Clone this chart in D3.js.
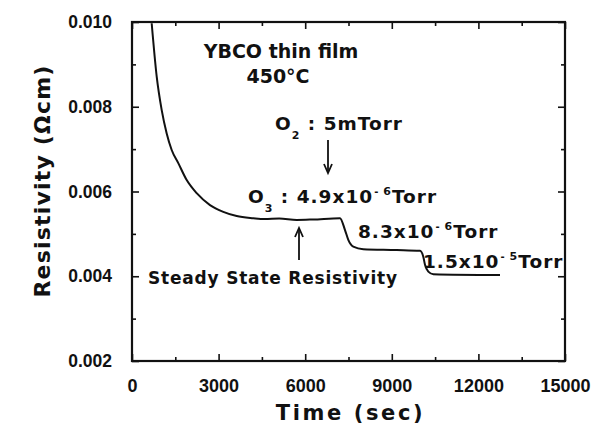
<!DOCTYPE html>
<html>
<head>
<meta charset="utf-8">
<script src="https://cdn.jsdelivr.net/npm/d3@7"></script>
<style>
  html, body { margin: 0; padding: 0; background: #fff; }
  svg { display: block; font-family: "DejaVu Sans", sans-serif; font-weight: bold; }
</style>
</head>
<body>
<svg id="chartArea" width="604" height="436"></svg>
<script>

/* data */
// time (sec)
const timeSec = [
  682, 856, 1029, 1202, 1375, 1604, 1895, 2241, 2702, 3163, 3627, 4202,
  4600, 5100, 5705, 6270, 7205,
  7379, 7493, 7666, 8013, 9170, 9977,
  10091, 10150, 10265, 10438, 12748
];
// resistivity (ohm cm)
const resistivity = [
  0.00997, 0.00871, 0.00792, 0.00737, 0.00698, 0.00667, 0.00627, 0.00596, 0.00568, 0.00552, 0.00542, 0.00537,
  0.00535, 0.00536, 0.00533, 0.00534, 0.00537,
  0.00509, 0.00486, 0.00470, 0.00464, 0.00462, 0.00460,
  0.00446, 0.00427, 0.00411, 0.00405, 0.00403
];

// axis tick values
const xTicks = d3.range(0, 15001, 1500);
const xTickLabels = ["0", "", "3000", "", "6000", "", "9000", "", "12000", "", "15000"];
const yTicks = d3.range(0.002, 0.01001, 0.001);
const yTickLabels = ["0.002", "", "0.004", "", "0.006", "", "0.008", "", "0.010"];

// labels
const xTitle = "Time  (sec)";
const yTitle = "Resistivity  (\u03A9cm)";
const sampleLabel = ["YBCO thin film", "450\u00B0C"];
const gasLabels = {
  o2: ["O", "2", " : 5mTorr"],
  o3: ["O", "3", " : 4.9x10", "-", "6", "Torr"],
  step1: ["8.3x10", "-", "6", "Torr"],
  step2: ["1.5x10", "-", "5", "Torr"]
};
const steadyLabel = "Steady State Resistivity";

/* main */
const svg = d3.select("#chartArea");
const margin = {top: 22, right: 39, bottom: 75, left: 132};
const width = 604, height = 436;
const ink = "#111";

// scales
const x = d3.scaleLinear()
  .domain([0, 15000])
  .range([margin.left, width - margin.right]);
const y = d3.scaleLinear()
  .domain([0.002, 0.010])
  .range([height - margin.bottom, margin.top]);

/* inward ticks, short for minor values */
function styleTicks(g, horizontal, sign) {
  g.selectAll(".tick line")
    .attr("stroke", ink)
    .attr("stroke-width", 1.6)
    .each(function(d, i) {
      const len = (i % 2 === 0 ? 7 : 4) * sign;
      d3.select(this).attr(horizontal ? "y2" : "x2", len);
    });
  g.select(".domain").attr("stroke", "none");
}

// bottom axis
const xAxis = svg.append("g")
  .attr("transform", `translate(0,${y.range()[0]})`)
  .call(d3.axisBottom(x)
    .tickValues(xTicks)
    .tickSizeOuter(0)
    .tickPadding(12)
    .tickFormat((d, i) => xTickLabels[i]));
styleTicks(xAxis, true, -1);
xAxis.selectAll("text")
  .attr("fill", ink)
  .attr("font-size", 18);

// top axis
const topAxis = svg.append("g")
  .attr("transform", `translate(0,${y.range()[1]})`)
  .call(d3.axisTop(x).tickValues(xTicks).tickSizeOuter(0).tickFormat(""));
styleTicks(topAxis, true, 1);

// left axis
const yAxis = svg.append("g")
  .attr("transform", `translate(${x.range()[0]},0)`)
  .call(d3.axisLeft(y)
    .tickValues(yTicks)
    .tickSizeOuter(0)
    .tickPadding(14)
    .tickFormat((d, i) => yTickLabels[i]));
styleTicks(yAxis, false, 1);
yAxis.selectAll("text")
  .attr("fill", ink)
  .attr("font-size", 17.5);

// right axis
const rightAxis = svg.append("g")
  .attr("transform", `translate(${x.range()[1]},0)`)
  .call(d3.axisRight(y).tickValues(yTicks).tickSizeOuter(0).tickFormat(""));
styleTicks(rightAxis, false, -1);

// clip for marks inside the frame
svg.append("clipPath")
  .attr("id", "plotClip")
  .append("rect")
  .attr("x", x.range()[0])
  .attr("y", y.range()[1])
  .attr("width", x.range()[1] - x.range()[0])
  .attr("height", y.range()[0] - y.range()[1]);

// axis titles
svg.append("text")
  .attr("x", (x.range()[0] + x.range()[1]) / 2 + 2)
  .attr("y", 420)
  .attr("text-anchor", "middle")
  .attr("font-size", 21)
  .attr("letter-spacing", 2.6)
  .attr("fill", ink)
  .text(xTitle);

svg.append("text")
  .attr("transform", "translate(50,181) rotate(-90)")
  .attr("text-anchor", "middle")
  .attr("font-size", 22)
  .attr("letter-spacing", 1.2)
  .attr("fill", ink)
  .text(yTitle);

// data line
const line = d3.line()
  .x((d, i) => x(timeSec[i]))
  .y(d => y(d))
  .curve(d3.curveMonotoneX);
svg.append("path")
  .datum(resistivity)
  .attr("d", line)
  .attr("fill", "none")
  .attr("stroke", ink)
  .attr("stroke-width", 2);

/* annotations */
const note = svg.append("g")
  .attr("fill", ink)
  .attr("clip-path", "url(#plotClip)");

note.append("text")
  .attr("x", 281).attr("y", 58)
  .attr("text-anchor", "middle")
  .attr("font-size", 19)
  .text(sampleLabel[0]);
note.append("text")
  .attr("x", 278).attr("y", 83)
  .attr("text-anchor", "middle")
  .attr("font-size", 19)
  .text(sampleLabel[1]);

/* exponent part: "-", digit, "Torr" */
function addExponent(t, minus, digit, unit) {
  t.append("tspan").attr("font-size", 10).attr("dy", -8).attr("dx", 1).text(minus);
  t.append("tspan").attr("font-size", 11).attr("dx", 4).text(digit);
  t.append("tspan").attr("dy", 8).attr("dx", 0).text(unit);
}

/* O2 / O3 style label with subscript */
function gasText(px, py, parts) {
  const t = note.append("text")
    .attr("x", px).attr("y", py)
    .attr("font-size", 18.5)
    .attr("letter-spacing", 1);
  t.append("tspan").text(parts[0]);
  t.append("tspan").attr("font-size", 11).attr("dy", 9).text(parts[1]);
  t.append("tspan").attr("dy", -9).attr("xml:space", "preserve").text(parts[2]);
  if (parts.length > 3) addExponent(t, parts[3], parts[4], parts[5]);
  return t;
}

/* pressure label with exponent */
function expText(px, py, parts) {
  const t = note.append("text")
    .attr("x", px).attr("y", py)
    .attr("font-size", 18.5)
    .attr("letter-spacing", 1);
  t.append("tspan").text(parts[0]);
  addExponent(t, parts[1], parts[2], parts[3]);
  return t;
}

gasText(275, 130, gasLabels.o2);
gasText(248, 203, gasLabels.o3);
expText(358, 238, gasLabels.step1);
expText(423, 268, gasLabels.step2);

note.append("text")
  .attr("x", 148).attr("y", 284)
  .attr("font-size", 17)
  .attr("letter-spacing", 0.8)
  .text(steadyLabel);

/* arrows */
function arrow(ax, y0, y1) {
  const dir = y1 > y0 ? 1 : -1;
  note.append("line")
    .attr("x1", ax).attr("x2", ax)
    .attr("y1", y0).attr("y2", y1)
    .attr("stroke", ink).attr("stroke-width", 1.8);
  note.append("path")
    .attr("d", `M${ax - 4},${y1 - dir * 9} L${ax},${y1} L${ax + 4},${y1 - dir * 9}`)
    .attr("fill", "none")
    .attr("stroke", ink)
    .attr("stroke-width", 1.8);
}
arrow(328, 140, 173);
arrow(299, 260, 228);

// frame on top
svg.append("rect")
  .attr("x", x.range()[0])
  .attr("y", y.range()[1])
  .attr("width", x.range()[1] - x.range()[0])
  .attr("height", y.range()[0] - y.range()[1])
  .attr("fill", "none")
  .attr("stroke", ink)
  .attr("stroke-width", 2.2);

</script>
</body>
</html>
